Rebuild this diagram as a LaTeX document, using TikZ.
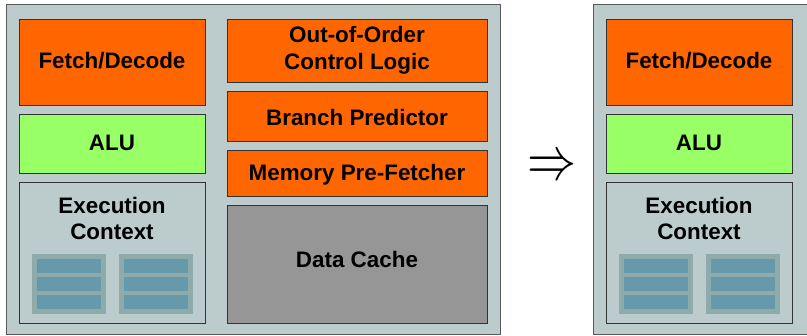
\documentclass[tikz,border=0pt]{standalone}
\usepackage{fontspec}
\setmainfont{Liberation Sans}
\definecolor{corebg}{HTML}{BCCCCC}
\definecolor{orangeC}{HTML}{FF6600}
\definecolor{greenC}{HTML}{99FF66}
\definecolor{cacheC}{HTML}{969696}
\definecolor{regout}{HTML}{8EABAB}
\definecolor{regbar}{HTML}{6699AA}
\tikzset{
  core/.style={draw=black!65, line width=1pt, fill=corebg},
  unit/.style={draw=black!80, line width=0.8pt, anchor=north west, inner sep=0pt, outer sep=0pt,
    align=center, font=\fontsize{22.4}{26.5}\selectfont\bfseries},
  oneline/.style={text height=18pt, text depth=4pt},
  regblock/.style={fill=regout},
  regrow/.style={fill=regbar},
}
\begin{document}
\begin{tikzpicture}[x=1pt,y=-1pt]
\useasboundingbox (0,0) rectangle (807,336);
\clip (0,0) rectangle (807,336);
\fill[white] (0,0) rectangle (807,336);
% outer cores
\draw[core] (6,5) rectangle (500,335);
\draw[core] (593,5) rectangle (1087,335);
\foreach \dx in {0,587}{
  \node[unit, oneline, fill=orangeC, minimum width=186pt, minimum height=86pt] (fd\dx) at (19+\dx,19) {Fetch/Decode};
  \node[unit, oneline, fill=greenC, minimum width=186pt, minimum height=59pt] (alu\dx) at (19+\dx,114) {ALU};
  \node[unit, fill=corebg, minimum width=186pt, minimum height=141pt] (ec\dx) at (19+\dx,182) {};
  \node[anchor=north, align=center, inner sep=0pt, font=\fontsize{22.4}{26.5}\selectfont\bfseries]
    (ect\dx) at (112+\dx,197) {Execution\\Context};
  \foreach \bx in {32,119}{
    \fill[regblock] (\bx+\dx,254) rectangle (\bx+74+\dx,314);
    \foreach \ry in {259,277,295}{
      \fill[regrow] (\bx+5+\dx,\ry) rectangle (\bx+69+\dx,\ry+14);
    }
  }
}
% middle column
\node[unit, fill=orangeC, minimum width=260pt, minimum height=63pt] (ooo) at (227,19) {Out-of-Order\\Control Logic};
\node[unit, fill=orangeC, text height=24pt, text depth=4pt, minimum width=260pt, minimum height=50pt] (bp) at (227,91) {Branch Predictor};
\node[unit, fill=orangeC, text height=19pt, text depth=4pt, minimum width=260pt, minimum height=46pt] (mpf) at (227,150) {Memory Pre-Fetcher};
\node[unit, fill=cacheC, text height=16pt, text depth=8pt, minimum width=260pt, minimum height=118pt] (dc) at (227,205) {Data Cache};
% arrow
\node[inner sep=0pt] (arr) at (552,168) {\scalebox{1}[1.25]{\resizebox{49pt}{!}{$\Rightarrow$}}};
\end{tikzpicture}
\end{document}
